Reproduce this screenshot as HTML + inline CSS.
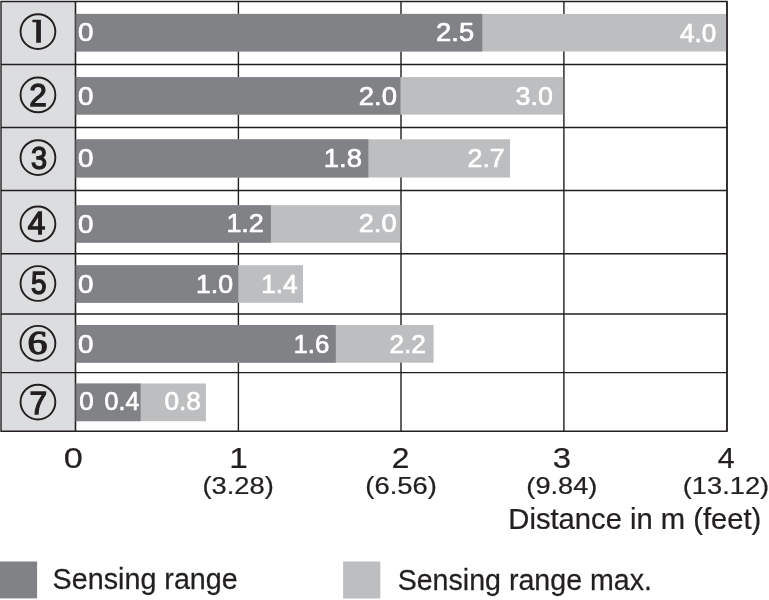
<!DOCTYPE html>
<html><head><meta charset="utf-8"><title>Sensing range chart</title>
<style>
html,body{margin:0;padding:0;background:#fff;}
svg{display:block;will-change:transform;font-family:"Liberation Sans",sans-serif;}
</style></head>
<body>
<svg width="769" height="600" viewBox="0 0 769 600">
<rect x="0" y="0" width="769" height="600" fill="#fff"/>
<rect x="1.0" y="1.5" width="74.5" height="429.8" fill="#dcddde"/>
<path d="M0.30000000000000004 1.5H727.7 M0.30000000000000004 64.5H727.7 M0.30000000000000004 127.5H727.7 M0.30000000000000004 190.5H727.7 M0.30000000000000004 253.7H727.7 M0.30000000000000004 314.0H727.7 M0.30000000000000004 372.6H727.7 M0.30000000000000004 431.3H727.7 M1.0 1.5V431.3 M75.5 1.5V431.3 M238.4 1.5V431.3 M401.0 1.5V431.3 M563.9 1.5V431.3 M727.0 1.5V431.3" stroke="#231f20" stroke-width="1.4" fill="none"/>
<rect x="75.0" y="13.9" width="651.3" height="37.6" fill="#bcbec0"/>
<rect x="75.0" y="13.9" width="407.3" height="37.6" fill="#808285"/>
<rect x="75.0" y="77.1" width="488.20000000000005" height="37.5" fill="#bcbec0"/>
<rect x="75.0" y="77.1" width="325.5" height="37.5" fill="#808285"/>
<rect x="75.0" y="139.3" width="435.0" height="38.19999999999999" fill="#bcbec0"/>
<rect x="75.0" y="139.3" width="293.4" height="38.19999999999999" fill="#808285"/>
<rect x="75.0" y="205.2" width="325.2" height="37.5" fill="#bcbec0"/>
<rect x="75.0" y="205.2" width="195.89999999999998" height="37.5" fill="#808285"/>
<rect x="75.0" y="265.2" width="228.0" height="37.60000000000002" fill="#bcbec0"/>
<rect x="75.0" y="265.2" width="163.3" height="37.60000000000002" fill="#808285"/>
<rect x="75.0" y="325.0" width="358.6" height="37.69999999999999" fill="#bcbec0"/>
<rect x="75.0" y="325.0" width="260.8" height="37.69999999999999" fill="#808285"/>
<rect x="75.0" y="383.5" width="130.9" height="37.69999999999999" fill="#bcbec0"/>
<rect x="75.0" y="383.5" width="65.6" height="37.69999999999999" fill="#808285"/>
<path d="M727.0 1.5V431.3" stroke="#231f20" stroke-width="1.4" fill="none"/>
<path d="M75.5 1.5V431.3" stroke="#231f20" stroke-width="1.4" fill="none" opacity="0.55"/>
<circle cx="37.95" cy="31.60" r="17.4" fill="none" stroke="#231f20" stroke-width="1.9"/>
<circle cx="37.95" cy="94.90" r="17.4" fill="none" stroke="#231f20" stroke-width="1.9"/>
<circle cx="37.95" cy="157.60" r="17.4" fill="none" stroke="#231f20" stroke-width="1.9"/>
<circle cx="37.95" cy="223.90" r="17.4" fill="none" stroke="#231f20" stroke-width="1.9"/>
<circle cx="37.95" cy="283.50" r="17.4" fill="none" stroke="#231f20" stroke-width="1.9"/>
<circle cx="37.95" cy="343.30" r="17.4" fill="none" stroke="#231f20" stroke-width="1.9"/>
<circle cx="37.95" cy="402.10" r="17.4" fill="none" stroke="#231f20" stroke-width="1.9"/>
<path d="M32.4 19.8H40.9V42.8H36.2V22.3H32.4Z" fill="#231f20"/>
<text transform="matrix(0.15805 0 0 0.15969 29.360 105.950)" font-size="200" fill="#231f20" stroke="#231f20" stroke-width="8.18" stroke-linejoin="miter">2</text>
<text transform="matrix(0.14501 0 0 0.16102 30.895 168.536)" font-size="200" fill="#231f20" stroke="#231f20" stroke-width="8.51" stroke-linejoin="miter">3</text>
<text transform="matrix(0.15826 0 0 0.15407 27.674 233.950)" font-size="200" fill="#231f20" stroke="#231f20" stroke-width="8.33" stroke-linejoin="miter">4</text>
<text transform="matrix(0.13973 0 0 0.15693 30.881 294.343)" font-size="200" fill="#231f20" stroke="#231f20" stroke-width="8.78" stroke-linejoin="miter">5</text>
<text transform="matrix(0.19895 0 0 0.17228 27.490 354.264)" font-size="200" fill="#231f20" font-family="Liberation Serif" stroke="#231f20" stroke-width="7.56" stroke-linejoin="miter">6</text>
<text transform="matrix(0.15838 0 0 0.15662 29.426 413.600)" font-size="200" fill="#231f20" stroke="#231f20" stroke-width="8.25" stroke-linejoin="miter">7</text>
<text transform="matrix(0.13911 0 0 0.12864 77.963 41.200)" font-size="200" fill="#fff" stroke="#fff" stroke-width="5.23" stroke-linejoin="round">0</text>
<text transform="matrix(0.13676 0 0 0.12864 436.074 41.200)" font-size="200" fill="#fff" stroke="#fff" stroke-width="5.28" stroke-linejoin="round">2.5</text>
<text transform="matrix(0.13026 0 0 0.12864 679.952 42.200)" font-size="200" fill="#fff" stroke="#fff" stroke-width="5.41" stroke-linejoin="round">4.0</text>
<text transform="matrix(0.13911 0 0 0.12864 77.963 104.700)" font-size="200" fill="#fff" stroke="#fff" stroke-width="5.23" stroke-linejoin="round">0</text>
<text transform="matrix(0.13723 0 0 0.12864 358.770 105.000)" font-size="200" fill="#fff" stroke="#fff" stroke-width="5.27" stroke-linejoin="round">2.0</text>
<text transform="matrix(0.13405 0 0 0.12864 515.529 105.000)" font-size="200" fill="#fff" stroke="#fff" stroke-width="5.33" stroke-linejoin="round">3.0</text>
<text transform="matrix(0.13911 0 0 0.12864 77.963 167.000)" font-size="200" fill="#fff" stroke="#fff" stroke-width="5.23" stroke-linejoin="round">0</text>
<text transform="matrix(0.13735 0 0 0.12864 323.758 167.000)" font-size="200" fill="#fff" stroke="#fff" stroke-width="5.27" stroke-linejoin="round">1.8</text>
<text transform="matrix(0.13416 0 0 0.12864 467.501 167.000)" font-size="200" fill="#fff" stroke="#fff" stroke-width="5.33" stroke-linejoin="round">2.7</text>
<text transform="matrix(0.13911 0 0 0.12864 77.963 232.800)" font-size="200" fill="#fff" stroke="#fff" stroke-width="5.23" stroke-linejoin="round">0</text>
<text transform="matrix(0.13453 0 0 0.12864 226.401 232.100)" font-size="200" fill="#fff" stroke="#fff" stroke-width="5.32" stroke-linejoin="round">1.2</text>
<text transform="matrix(0.13646 0 0 0.12864 358.677 232.200)" font-size="200" fill="#fff" stroke="#fff" stroke-width="5.28" stroke-linejoin="round">2.0</text>
<text transform="matrix(0.13911 0 0 0.12864 77.963 292.800)" font-size="200" fill="#fff" stroke="#fff" stroke-width="5.23" stroke-linejoin="round">0</text>
<text transform="matrix(0.13334 0 0 0.12864 196.019 292.500)" font-size="200" fill="#fff" stroke="#fff" stroke-width="5.34" stroke-linejoin="round">1.0</text>
<text transform="matrix(0.13038 0 0 0.12864 261.264 292.500)" font-size="200" fill="#fff" stroke="#fff" stroke-width="5.41" stroke-linejoin="round">1.4</text>
<text transform="matrix(0.13911 0 0 0.12864 77.963 352.600)" font-size="200" fill="#fff" stroke="#fff" stroke-width="5.23" stroke-linejoin="round">0</text>
<text transform="matrix(0.12913 0 0 0.12864 293.483 352.800)" font-size="200" fill="#fff" stroke="#fff" stroke-width="5.43" stroke-linejoin="round">1.6</text>
<text transform="matrix(0.13105 0 0 0.12864 389.432 352.800)" font-size="200" fill="#fff" stroke="#fff" stroke-width="5.39" stroke-linejoin="round">2.2</text>
<text transform="matrix(0.12970 0 0 0.12864 79.137 410.300)" font-size="200" fill="#fff" stroke="#fff" stroke-width="5.42" stroke-linejoin="round">0</text>
<text transform="matrix(0.12483 0 0 0.12864 104.575 410.300)" font-size="200" fill="#fff" stroke="#fff" stroke-width="5.52" stroke-linejoin="round">0.4</text>
<text transform="matrix(0.13077 0 0 0.12864 164.428 410.300)" font-size="200" fill="#fff" stroke="#fff" stroke-width="5.40" stroke-linejoin="round">0.8</text>
<text transform="matrix(0.17102 0 0 0.14971 63.789 467.600)" font-size="200" fill="#231f20" stroke="#231f20" stroke-width="1.56" stroke-linejoin="round">0</text>
<text transform="matrix(0.16641 0 0 0.14971 229.190 467.600)" font-size="200" fill="#231f20" stroke="#231f20" stroke-width="1.58" stroke-linejoin="round">1</text>
<text transform="matrix(0.15859 0 0 0.14971 391.730 467.600)" font-size="200" fill="#231f20" stroke="#231f20" stroke-width="1.62" stroke-linejoin="round">2</text>
<text transform="matrix(0.16399 0 0 0.14971 552.676 467.600)" font-size="200" fill="#231f20" stroke="#231f20" stroke-width="1.60" stroke-linejoin="round">3</text>
<text transform="matrix(0.15231 0 0 0.14971 717.626 467.600)" font-size="200" fill="#231f20" stroke="#231f20" stroke-width="1.66" stroke-linejoin="round">4</text>
<text transform="matrix(0.13654 0 0 0.11919 202.432 494.000)" font-size="200" fill="#231f20" stroke="#231f20" stroke-width="1.96" stroke-linejoin="round">(3.28)</text>
<text transform="matrix(0.13674 0 0 0.11919 365.329 494.000)" font-size="200" fill="#231f20" stroke="#231f20" stroke-width="1.96" stroke-linejoin="round">(6.56)</text>
<text transform="matrix(0.13594 0 0 0.11919 526.339 494.000)" font-size="200" fill="#231f20" stroke="#231f20" stroke-width="1.96" stroke-linejoin="round">(9.84)</text>
<text transform="matrix(0.13640 0 0 0.11919 682.733 494.000)" font-size="200" fill="#231f20" stroke="#231f20" stroke-width="1.96" stroke-linejoin="round">(13.12)</text>
<text transform="matrix(0.14595 0 0 0.14462 508.331 529.100)" font-size="200" fill="#231f20" stroke="#231f20" stroke-width="1.72" stroke-linejoin="round">Distance in m (feet)</text>
<rect x="0" y="561.5" width="37.1" height="36.9" fill="#808285"/>
<rect x="343.1" y="561.5" width="37.2" height="37.0" fill="#bcbec0"/>
<text transform="matrix(0.14361 0 0 0.15189 52.621 588.800)" font-size="200" fill="#231f20" stroke="#231f20" stroke-width="1.69" stroke-linejoin="round">Sensing range</text>
<text transform="matrix(0.14305 0 0 0.15189 397.626 589.700)" font-size="200" fill="#231f20" stroke="#231f20" stroke-width="1.70" stroke-linejoin="round">Sensing range max.</text>
</svg>
</body></html>
